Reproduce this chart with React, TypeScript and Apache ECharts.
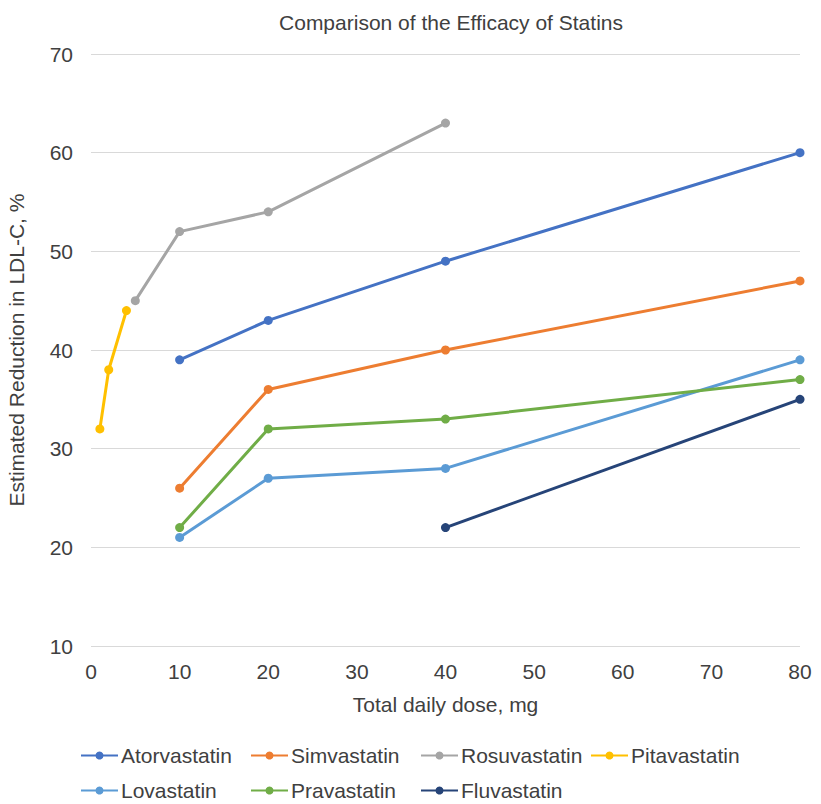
import React, { useEffect, useRef } from "react";
import * as echarts from "echarts";

const seriesNames = ["Atorvastatin", "Simvastatin", "Rosuvastatin", "Pitavastatin", "Lovastatin", "Pravastatin", "Fluvastatin"];
const colors = ["#4472C4", "#ED7D31", "#A5A5A5", "#FFC000", "#5B9BD5", "#70AD47", "#264478"];

const atorvastatin = [[10, 39], [20, 43], [40, 49], [80, 60]];
const simvastatin = [[10, 26], [20, 36], [40, 40], [80, 47]];
const rosuvastatin = [[5, 45], [10, 52], [20, 54], [40, 63]];
const pitavastatin = [[1, 32], [2, 38], [4, 44]];
const lovastatin = [[10, 21], [20, 27], [40, 28], [80, 39]];
const pravastatin = [[10, 22], [20, 32], [40, 33], [80, 37]];
const fluvastatin = [[40, 22], [80, 35]];

const seriesData = [atorvastatin, simvastatin, rosuvastatin, pitavastatin, lovastatin, pravastatin, fluvastatin];

const legendPos = [
  [80, 745], [250, 745], [420, 745], [590, 745],
  [80, 780], [250, 780], [420, 780],
];

const FONT = "Liberation Sans, Arial, Helvetica, sans-serif";
const TXT = "#404040";
const FS = 21;

export default function App() {
  const ref = useRef<HTMLDivElement>(null);
  useEffect(() => {
    const chart = echarts.init(ref.current!, null, { renderer: "svg" });
    chart.setOption({
      animation: false,
      backgroundColor: "#ffffff",
      title: {
        text: "Comparison of the Efficacy of Statins",
        left: 446,
        textAlign: "center",
        top: 7,
        textStyle: { fontFamily: FONT, fontSize: FS, fontWeight: "normal", color: TXT },
      },
      grid: { left: 91, right: 21, top: 54, bottom: 158, containLabel: false, outerBoundsMode: "none" },
      xAxis: {
        type: "value",
        min: 0,
        max: 80,
        interval: 10,
        name: "Total daily dose, mg",
        nameLocation: "middle",
        nameGap: 48,
        nameTextStyle: { fontFamily: FONT, fontSize: FS, color: TXT },
        axisLine: { show: false },
        axisTick: { show: false },
        splitLine: { show: false },
        axisLabel: { fontFamily: FONT, fontSize: FS, color: TXT, margin: 15 },
      },
      yAxis: {
        type: "value",
        min: 10,
        max: 70,
        interval: 10,
        name: "Estimated Reduction in LDL-C, %",
        nameLocation: "middle",
        nameGap: 64,
        nameTextStyle: { fontFamily: FONT, fontSize: FS, color: TXT },
        axisLine: { show: false },
        axisTick: { show: false },
        splitLine: { show: true, lineStyle: { color: "#d9d9d9", width: 1 } },
        axisLabel: { fontFamily: FONT, fontSize: FS, color: TXT, margin: 18 },
      },
      legend: seriesNames.map((n, i) => ({
        data: [n],
        left: legendPos[i][0],
        top: legendPos[i][1],
        itemWidth: 37,
        itemHeight: 10,
        itemGap: 0,
        padding: 0,
        textStyle: { fontFamily: FONT, fontSize: FS, color: TXT, padding: [0, 0, 0, -2] },
      })),
      series: seriesNames.map((n, i) => ({
        name: n,
        type: "line",
        data: seriesData[i],
        color: colors[i],
        symbol: "circle",
        symbolSize: 9,
        lineStyle: { width: 3, color: colors[i] },
        itemStyle: { color: colors[i] },
      })),
    });
    return () => chart.dispose();
  }, []);
  return <div ref={ref} style={{ width: 821, height: 804, position: "absolute", left: 0, top: 0 }} />;
}
